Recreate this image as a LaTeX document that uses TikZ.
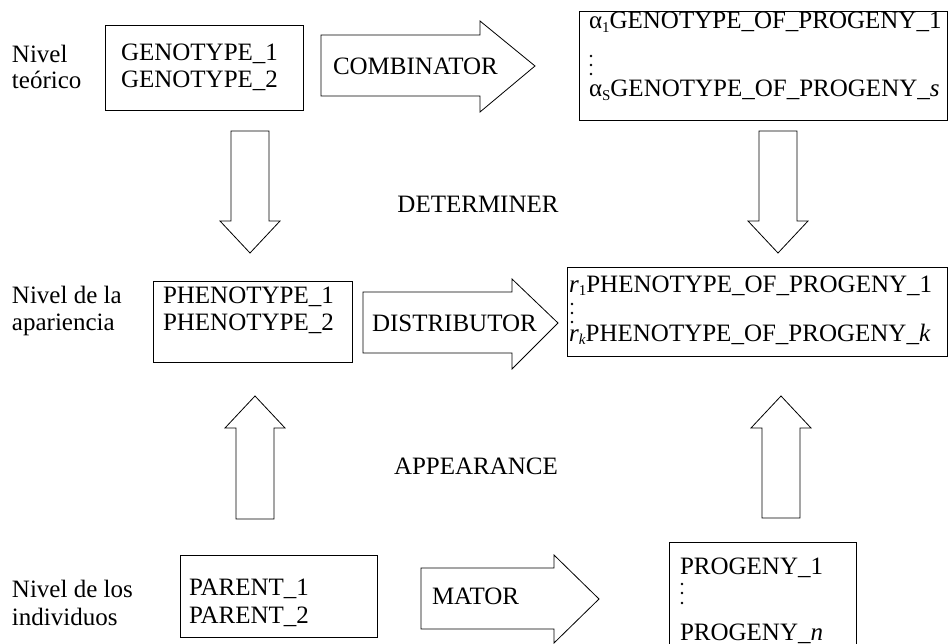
\documentclass[tikz,border=0pt]{standalone}
\usepackage{fontspec}
\setmainfont{Liberation Serif}
\newcommand\lowsub[1]{\raisebox{-0.32ex}{\fontsize{15}{15}\selectfont #1}}
\begin{document}
\begin{tikzpicture}[x=1pt,y=-1pt,
  every node/.style={inner sep=0pt, outer sep=0pt},
  txt/.style={font=\fontsize{25}{28}\selectfont, anchor=base west},
  ctxt/.style={font=\fontsize{25}{28}\selectfont, anchor=base},
  box/.style={draw, line width=0.8pt, anchor=north west},
  barrow/.style={draw, line width=0.8pt, fill=white, line join=miter},
  vdot/.style={circle, fill, minimum size=2.6pt}
]
\useasboundingbox (0,0) rectangle (950,644);
\clip (0,0) rectangle (950,644);

% ---------- level labels ----------
\node[txt] (l1a) at (12,63) {Nivel};
\node[txt] (l1b) at (12,89) {teórico};
\node[txt] (l2a) at (12,303) {Nivel de la};
\node[txt] (l2b) at (12,330) {apariencia};
\node[txt] (l3a) at (12,597) {Nivel de los};
\node[txt] (l3b) at (12,625) {individuos};

% ---------- boxes ----------
\node[box, minimum width=198pt, minimum height=85pt] (geno) at (105,25) {};
\node[txt] (g1) at (121,61) {GENOTYPE\_1};
\node[txt] (g2) at (121,88) {GENOTYPE\_2};

\node[box, minimum width=368pt, minimum height=109pt] (gprog) at (579,11) {};
\node[txt] (gp1) at (589,29) {α\lowsub{1}GENOTYPE\_OF\_PROGENY\_1};
\node[vdot] (gd1) at (591,56) {};
\node[vdot] (gd2) at (591,65) {};
\node[vdot] (gd3) at (591,74) {};
\node[txt] (gp2) at (589,97) {α\lowsub{S}GENOTYPE\_OF\_PROGENY\_\textit{s}};

\node[box, minimum width=199pt, minimum height=81pt] (pheno) at (153,281) {};
\node[txt] (p1) at (163,303) {PHENOTYPE\_1};
\node[txt] (p2) at (163,330) {PHENOTYPE\_2};

\node[box, minimum width=380pt, minimum height=89pt] (pprog) at (567,267) {};
\node[txt] (pp1) at (569,292) {\textit{r}\lowsub{1}PHENOTYPE\_OF\_PROGENY\_1};
\node[vdot] (pd1) at (572,304) {};
\node[vdot] (pd2) at (572,313) {};
\node[vdot] (pd3) at (572,322) {};
\node[txt] (pp2) at (569,341) {\textit{r}\lowsub{\textit{k}}PHENOTYPE\_OF\_PROGENY\_\textit{k}};

\node[box, minimum width=197pt, minimum height=82pt] (parent) at (180,555) {};
\node[txt] (pa1) at (189,595) {PARENT\_1};
\node[txt] (pa2) at (189,623) {PARENT\_2};

\node[box, minimum width=187pt, minimum height=130pt] (prog) at (669,542) {};
\node[txt] (pr1) at (680,574) {PROGENY\_1};
\node[vdot] (prd1) at (682,584) {};
\node[vdot] (prd2) at (682,593) {};
\node[vdot] (prd3) at (682,603) {};
\node[txt] (pr2) at (680,640) {PROGENY\_\textit{n}};

% ---------- horizontal block arrows ----------
\draw[barrow] (321,35) -- (480,35) -- (480,21) -- (535,66) -- (480,112) -- (480,96) -- (321,96) -- cycle;
\node[txt] (comb) at (333,75) {COMBINATOR};

\draw[barrow] (363,292) -- (512,292) -- (512,279) -- (558,323) -- (512,369) -- (512,353) -- (363,353) -- cycle;
\node[txt] (dist) at (372,331) {DISTRIBUTOR};

\draw[barrow] (421,568) -- (554,568) -- (554,555) -- (599,599) -- (554,643) -- (554,629) -- (421,629) -- cycle;
\node[txt] (mator) at (432,604) {MATOR};

% ---------- vertical block arrows ----------
\draw[barrow] (231,131) -- (269,131) -- (269,221) -- (280,221) -- (250,253) -- (220,221) -- (231,221) -- cycle;
\draw[barrow] (759,131) -- (797,131) -- (797,221) -- (808,221) -- (778,253) -- (748,221) -- (759,221) -- cycle;
\node[ctxt] (det) at (478,213) {DETERMINER};

\draw[barrow] (236,519) -- (274,519) -- (274,428) -- (285,428) -- (255,396) -- (225,428) -- (236,428) -- cycle;
\draw[barrow] (762,518) -- (800,518) -- (800,428) -- (811,428) -- (781,396) -- (751,428) -- (762,428) -- cycle;
\node[ctxt] (app) at (476,474) {APPEARANCE};
\end{tikzpicture}
\end{document}
